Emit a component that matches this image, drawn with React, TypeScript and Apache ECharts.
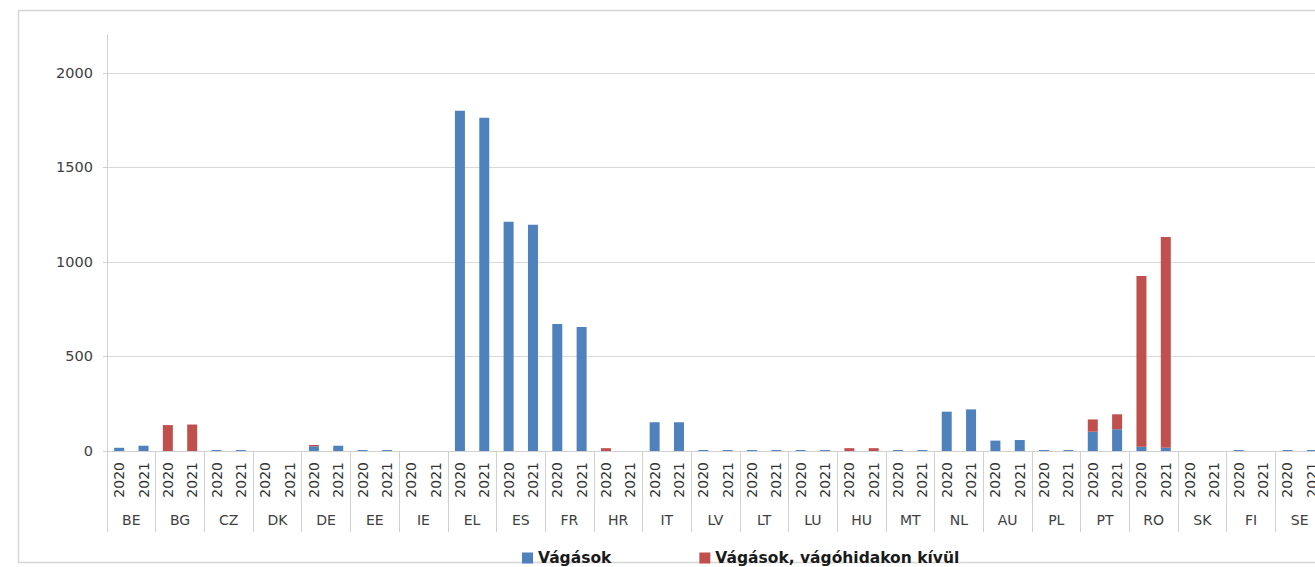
import React, { useEffect, useRef } from "react";
import * as echarts from "echarts";

const countries = ["BE", "BG", "CZ", "DK", "DE", "EE", "IE", "EL", "ES", "FR", "HR", "IT", "LV", "LT", "LU", "HU", "MT", "NL", "AU", "PL", "PT", "RO", "SK", "FI", "SE"];
const years = ["2020", "2021"];
const vagasok2020 = [17, 0, 5, 0, 25, 5, 0, 1800, 1212, 672, 0, 152, 5, 5, 5, 0, 5, 208, 55, 5, 102, 23, 0, 5, 5];
const vagasok2021 = [28, 0, 5, 0, 28, 5, 0, 1762, 1196, 656, 0, 152, 5, 5, 5, 0, 5, 220, 58, 5, 115, 17, 0, 0, 5];
const kivul2020 = [0, 137, 0, 0, 7, 0, 0, 0, 0, 0, 15, 0, 0, 0, 0, 15, 0, 0, 0, 0, 65, 903, 0, 0, 0];
const kivul2021 = [0, 140, 0, 0, 0, 0, 0, 0, 0, 0, 0, 0, 0, 0, 0, 15, 0, 0, 0, 0, 79, 1115, 0, 0, 0];
const yTicks = { min: 0, max: 2200, interval: 500 };
const seriesNames = ["Vágások", "Vágások, vágóhidakon kívül"];

const FONT = "DejaVu Sans";

export default function App() {
  const ref = useRef<HTMLDivElement>(null);
  useEffect(() => {
    if (!ref.current) return;
    const chart = echarts.init(ref.current, null, { renderer: "svg" });
    const yearCats: string[] = [];
    const blue: number[] = [];
    const red: number[] = [];
    countries.forEach((c, i) => {
      yearCats.push(years[0], years[1]);
      blue.push(vagasok2020[i], vagasok2021[i]);
      red.push(kivul2020[i], kivul2021[i]);
    });
    chart.setOption({
      animation: false,
      backgroundColor: "#ffffff",
      graphic: [
        {
          type: "rect",
          left: 16,
          top: 8,
          shape: { width: 1400, height: 552 },
          style: { fill: "none", stroke: "#d6d6d6", lineWidth: 1.5 },
          silent: true,
        },
      ],
      legend: {
        left: 517,
        top: 545,
        itemWidth: 11,
        itemHeight: 11,
        itemGap: 88,
        icon: "rect",
        textStyle: { fontFamily: FONT, fontWeight: "bold", fontSize: 15.5, color: "#1a1a1a" },
        data: seriesNames,
      },
      grid: { left: 107, right: 21, top: 35, bottom: 116, containLabel: false },
      xAxis: [
        {
          type: "category",
          data: yearCats,
          position: "bottom",
          axisLine: { show: true, lineStyle: { color: "#d0d0d0", width: 1 } },
          axisTick: { show: false },
          axisLabel: {
            interval: 0,
            rotate: 90,
            margin: 11,
            fontFamily: FONT,
            fontSize: 14,
            color: "#333333",
          },
        },
        {
          type: "category",
          data: countries,
          position: "bottom",
          axisLine: { show: false },
          axisTick: { show: true, interval: 0, length: 81, lineStyle: { color: "#d0d0d0" } },
          axisLabel: {
            interval: 0,
            margin: 62,
            fontFamily: FONT,
            fontSize: 14,
            color: "#404040",
          },
        },
      ],
      yAxis: {
        type: "value",
        min: yTicks.min,
        max: yTicks.max,
        interval: yTicks.interval,
        axisLine: { show: true, lineStyle: { color: "#d0d0d0" } },
        axisTick: { show: true, length: 4, lineStyle: { color: "#d0d0d0" } },
        axisLabel: {
          margin: 14,
          fontFamily: FONT,
          fontSize: 14.5,
          color: "#404040",
          showMaxLabel: false,
          formatter: (v: number) => String(v),
        },
        splitLine: { show: true, showMaxLine: false, lineStyle: { color: "#d9d9d9", width: 1 } },
      },
      series: [
        {
          name: seriesNames[0],
          type: "bar",
          stack: "total",
          xAxisIndex: 0,
          barWidth: 10,
          itemStyle: { color: "#4F81BD" },
          data: blue,
        },
        {
          name: seriesNames[1],
          type: "bar",
          stack: "total",
          xAxisIndex: 0,
          barWidth: 10,
          itemStyle: { color: "#C0504D" },
          data: red,
        },
      ],
    });
    return () => chart.dispose();
  }, []);
  return (
    <div style={{ position: "fixed", left: 0, top: 0, width: 1315, height: 567, overflow: "hidden", background: "#fff" }}>
      <div ref={ref} style={{ width: 1345, height: 567 }} />
    </div>
  );
}
